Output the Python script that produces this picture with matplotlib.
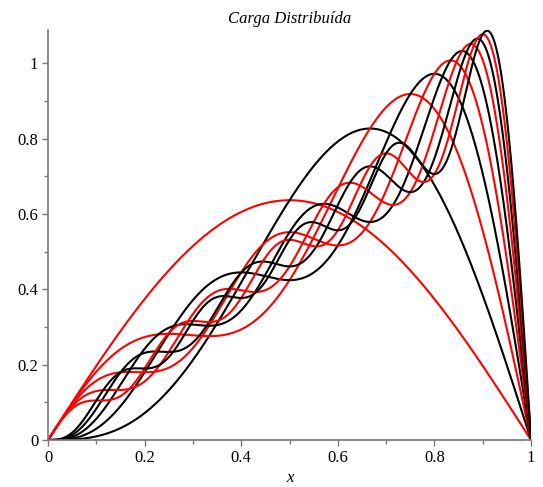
import numpy as np
import matplotlib
matplotlib.use("Agg")
import matplotlib.pyplot as plt
from matplotlib.ticker import MultipleLocator

# sine-series coefficients b_n read for the load curve (n = 1..10)
coefs = [0.6366, -0.3183, 0.2122, -0.1592, 0.1273, -0.1061, 0.0909, -0.0796, 0.0707, -0.0637]
# number of terms in each plotted partial sum, with its colour
n_terms = [1, 2, 3, 4, 5, 6, 7, 8, 9, 10]
colors = ['red', 'black', 'red', 'black', 'red', 'black', 'red', 'black', 'red', 'black']

title = "Carga Distribuída"
xlabel = "x"

plt.rcParams['font.family'] = ['Liberation Serif', 'DejaVu Serif']

fig = plt.figure(figsize=(5.43, 4.87), dpi=100)
ax = fig.add_axes([0.0884, 0.0965, 0.8896, 0.8415])

x = np.linspace(0, 1, 1000)
for n, c in zip(n_terms, colors):
    y = np.zeros_like(x)
    for k in range(n):
        y += coefs[k] * np.sin((k + 1) * np.pi * x)
    ax.plot(x, y, color=c, lw=1.5)

ax.set_xlim(0, 1)
ax.set_ylim(0, 1.088)

for s in ['top', 'right']:
    ax.spines[s].set_visible(False)
for s in ['left', 'bottom']:
    ax.spines[s].set_color('#777777')
    ax.spines[s].set_linewidth(1.2)

fmt = plt.FuncFormatter(lambda v, p: '0' if v == 0 else ('1' if abs(v - 1) < 1e-9 else f'{v:.1f}'))
ax.xaxis.set_major_locator(MultipleLocator(0.2))
ax.xaxis.set_minor_locator(MultipleLocator(0.1))
ax.yaxis.set_major_locator(MultipleLocator(0.2))
ax.yaxis.set_minor_locator(MultipleLocator(0.1))
ax.xaxis.set_major_formatter(fmt)
ax.yaxis.set_major_formatter(fmt)
ax.tick_params(which='major', length=4, width=1, color='#777777', labelsize=12, pad=3)
ax.tick_params(which='minor', length=3, width=1, color='#777777')

ax.set_title(title, fontsize=12, style='italic', pad=5)
ax.set_xlabel(xlabel, fontsize=12, style='italic', labelpad=3)

fig.savefig('out.png', dpi=100)
